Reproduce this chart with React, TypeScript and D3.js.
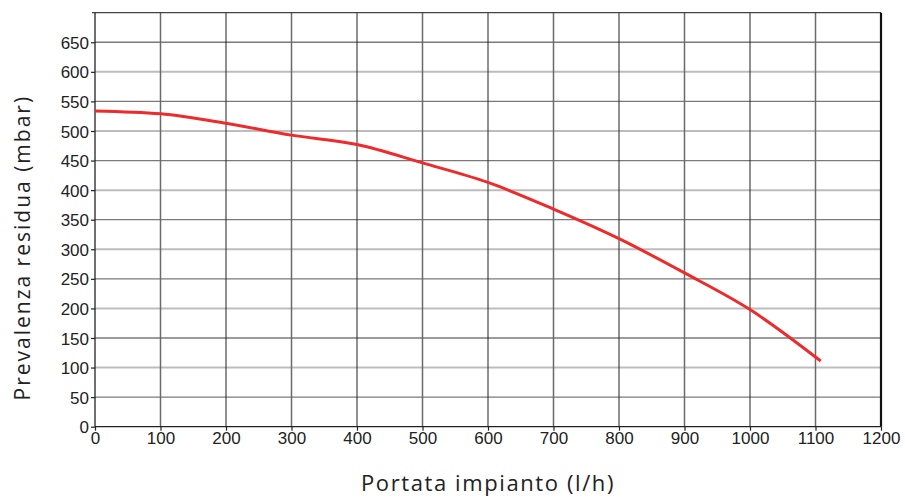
import React, { useEffect, useRef } from "react";
import * as d3 from "d3";

const portata = [0, 100, 200, 300, 400, 500, 600, 700, 800, 900, 1000, 1108];
const prevalenza = [534, 529, 513, 493, 477, 446, 413, 368, 318, 260, 198, 111];

const xTicks = d3.range(0, 1201, 100);
const yTicks = d3.range(0, 651, 50);

export default function App() {
  const svgRef = useRef(null);
  const [width, height] = [905, 499];
  const margin = { top: 12.7, right: 24, bottom: 72.3, left: 95 };

  useEffect(() => {
    const svg = d3.select(svgRef.current);
    svg.selectAll("*").remove();

    const x = d3
      .scaleLinear()
      .domain([0, 1200])
      .range([margin.left, width - margin.right]);
    const y = d3
      .scaleLinear()
      .domain([0, 700])
      .range([height - margin.bottom, margin.top]);

    const [x0, x1] = x.range();
    const [y0, y1] = y.range();

    // horizontal grid: hundreds light, fifties darker
    svg
      .append("g")
      .selectAll("line")
      .data(yTicks.filter((d) => d > 0))
      .join("line")
      .attr("x1", x0)
      .attr("x2", x1)
      .attr("y1", (d) => y(d))
      .attr("y2", (d) => y(d))
      .attr("stroke", (d) => (d % 100 === 0 ? "#bdbdbd" : "#7a7a7a"))
      .attr("stroke-width", (d) => (d % 100 === 0 ? 2 : 1.3));

    // vertical grid
    svg
      .append("g")
      .selectAll("line")
      .data(xTicks.filter((d) => d > 0 && d < 1200))
      .join("line")
      .attr("x1", (d) => x(d))
      .attr("x2", (d) => x(d))
      .attr("y1", y1)
      .attr("y2", y0)
      .attr("stroke", (d) => (d % 200 === 0 ? "#222" : "#6a6a6a"))
      .attr("stroke-width", (d) => (d % 200 === 0 ? 1 : 1.5));

    // frame
    svg
      .append("line")
      .attr("x1", x0 - 3)
      .attr("x2", x1)
      .attr("y1", y1)
      .attr("y2", y1)
      .attr("stroke", "#444")
      .attr("stroke-width", 1.3);
    svg
      .append("line")
      .attr("x1", x1)
      .attr("x2", x1)
      .attr("y1", y1)
      .attr("y2", y0)
      .attr("stroke", "#111")
      .attr("stroke-width", 2.2);

    // axes
    const fmt = d3.format("d");
    const yAxis = svg
      .append("g")
      .attr("transform", `translate(${x0},0)`)
      .call(d3.axisLeft(y).tickValues(yTicks).tickFormat(fmt).tickSize(4).tickPadding(2));
    const xAxis = svg
      .append("g")
      .attr("transform", `translate(0,${y0})`)
      .call(d3.axisBottom(x).tickValues(xTicks).tickFormat(fmt).tickSize(4).tickPadding(1));

    [yAxis, xAxis].forEach((g) => {
      g.select(".domain").attr("stroke", "#222").attr("stroke-width", 1.3);
      g.selectAll(".tick line").attr("stroke", "#222").attr("stroke-width", 1.2);
      g.selectAll("text")
        .attr("font-family", "Liberation Sans, Arial, sans-serif")
        .attr("font-size", 17)
        .attr("fill", "#222");
    });
    yAxis.select(".domain").attr("d", `M0,${y0}V${y1}`);
    yAxis.selectAll("text").attr("dy", "0.36em");
    xAxis.select(".domain").attr("d", `M${x0},0H${x1}`);

    // curve
    const line = d3
      .line()
      .x((d, i) => x(portata[i]))
      .y((d) => y(d))
      .curve(d3.curveMonotoneX);

    svg
      .append("path")
      .datum(prevalenza)
      .attr("d", line)
      .attr("fill", "none")
      .attr("stroke", "#ee2a2a")
      .attr("stroke-width", 3);

    // titles
    svg
      .append("text")
      .attr("x", (x0 + x1) / 2)
      .attr("y", 491)
      .attr("text-anchor", "middle")
      .attr("font-family", "Open Sans, sans-serif")
      .attr("font-size", 22)
      .attr("letter-spacing", 1.6)
      .attr("fill", "#222")
      .text("Portata impianto (l/h)");

    svg
      .append("text")
      .attr("transform", `translate(30,${(y0 + y1) / 2 + 28}) rotate(-90)`)
      .attr("text-anchor", "middle")
      .attr("font-family", "Open Sans, sans-serif")
      .attr("font-size", 21)
      .attr("letter-spacing", 2)
      .attr("fill", "#222")
      .text("Prevalenza residua (mbar)");
  }, []);

  return (
    <div style={{ position: "absolute", left: 0, top: 0 }}>
      <svg ref={svgRef} width={width} height={height}></svg>
    </div>
  );
}
